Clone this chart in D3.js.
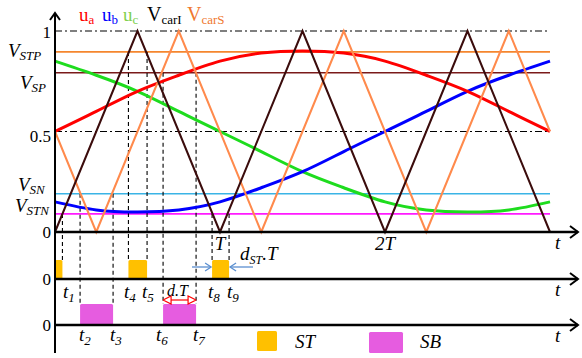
<!DOCTYPE html>
<html>
<head>
<meta charset="utf-8">
<script src="https://cdn.jsdelivr.net/npm/d3@7"></script>
<style>
  html, body { margin: 0; padding: 0; background: #fff; }
  svg { display: block; }
  text { font-family: "Liberation Serif", "Times New Roman", serif; }
</style>
</head>
<body>
<svg id="chart" width="582" height="358"></svg>
<script>
// ---- data (time in carrier periods T, amplitude normalised 0..1) ----
const periodTicks = [1, 2];
const periodLabels = ["T", "2T"];
const gridValues = [1, 0.5];
const gridLabels = ["1", "0.5"];

const levelNames = ["STP", "SP", "SN", "STN"];
const levelValues = [0.896, 0.792, 0.19, 0.09];
const levelColors = ["#f5862e", "#7a1a1a", "#3ab4e6", "#ff1aff"];

const carrierITimes = [0, 0.5, 1, 1.5, 2, 2.5, 3];
const carrierIValues = [0, 1, 0, 1, 0, 1, 0];
const carrierSTimes = [0, 0.25, 0.75, 1.25, 1.75, 2.25, 2.75, 3];
const carrierSValues = [0.5, 0, 1, 0, 1, 0, 1, 0.5];

const phaseTimes = [0, 0.25, 0.5, 0.75, 1, 1.25, 1.5, 1.75, 2, 2.25, 2.5, 2.75, 3];
const ua = [0.50, 0.60, 0.70, 0.78, 0.85, 0.89, 0.90, 0.89, 0.85, 0.78, 0.70, 0.60, 0.50];
const ub = [0.15, 0.11, 0.10, 0.11, 0.15, 0.22, 0.30, 0.40, 0.50, 0.60, 0.70, 0.78, 0.85];
const uc = [0.85, 0.78, 0.70, 0.60, 0.50, 0.40, 0.30, 0.22, 0.15, 0.11, 0.10, 0.11, 0.15];

// switching instants t1..t9, the level each one is taken from, and its state row
const switchNames = ["1", "2", "3", "4", "5", "6", "7", "8", "9"];
const switchTimes = [0.045, 0.152, 0.352, 0.445, 0.558, 0.655, 0.855, 0.952, 1.055];
const switchLevel = [3, 2, 2, 0, 0, 1, 1, 3, 3];
const switchRow = ["ST", "SB", "SB", "ST", "ST", "SB", "SB", "ST", "ST"];

// shoot-through and shoot-by intervals
const stStart = [0, 0.445, 0.952];
const stEnd = [0.045, 0.558, 1.055];
const sbStart = [0.152, 0.655];
const sbEnd = [0.352, 0.855];

// ---- layout ----
const svg = d3.select("#chart");
const x = d3.scaleLinear().domain([0, 3]).range([55, 550]);
const y = d3.scaleLinear().domain([0, 1]).range([232, 31]);
const axisX0 = 55, axisEnd = 578;
const stAxisY = 279, sbAxisY = 325;
const stTop = 260, sbTop = 304;
const ST_COLOR = "#ffc000", SB_COLOR = "#e65ce0";

function label(px, py, main, sub, opt = {}) {
  const t = svg.append("text")
    .attr("x", px).attr("y", py)
    .attr("font-size", opt.size || 18)
    .attr("fill", opt.color || "#000")
    .attr("text-anchor", opt.anchor || "start")
    .attr("font-style", opt.italic ? "italic" : "normal");
  t.append("tspan").text(main);
  if (sub) {
    t.append("tspan").attr("font-size", opt.subSize || 12)
      .attr("dy", opt.subDy || 4).text(sub);
    if (opt.after) t.append("tspan").attr("dy", -(opt.subDy || 4)).text(opt.after);
  }
  return t;
}

function openArrow(px, py, dir, len = 8, half = 6, color = "#000", w = 2) {
  // chevron arrowhead with its tip at (px, py); dir: "right", "left", "up"
  let pts;
  if (dir === "right") pts = [[px - len, py - half], [px, py], [px - len, py + half]];
  else if (dir === "left") pts = [[px + len, py - half], [px, py], [px + len, py + half]];
  else pts = [[px - half, py + len], [px, py], [px + half, py + len]];
  svg.append("path").attr("d", d3.line()(pts))
    .attr("fill", "none").attr("stroke", color).attr("stroke-width", w)
    .attr("stroke-linejoin", "miter");
}

// dash-dot grid lines at 1 and 0.5
svg.selectAll(".grid").data(gridValues).enter().append("line")
  .attr("x1", x(0)).attr("x2", x(3))
  .attr("y1", d => y(d)).attr("y2", d => y(d))
  .attr("stroke", "#000").attr("stroke-width", 1.2)
  .attr("stroke-dasharray", "7,3,2,3");

// reference levels
svg.selectAll(".level").data(levelValues).enter().append("line")
  .attr("x1", x(0)).attr("x2", x(3))
  .attr("y1", d => y(d)).attr("y2", d => y(d))
  .attr("stroke", (d, i) => levelColors[i]).attr("stroke-width", 1.6);

// dashed switching-instant guides
switchTimes.forEach((t, i) => {
  svg.append("line")
    .attr("x1", x(t)).attr("x2", x(t))
    .attr("y1", y(levelValues[switchLevel[i]]))
    .attr("y2", switchRow[i] === "ST" ? stTop : sbTop)
    .attr("stroke", "#000").attr("stroke-width", 1.1)
    .attr("stroke-dasharray", "4,3");
});

// three-phase references
const phaseLine = d3.line().x((d, i) => x(phaseTimes[i])).y(d => y(d)).curve(d3.curveNatural);
[[uc, "#1edc1e"], [ub, "#0000ff"], [ua, "#ff0000"]].forEach(([vals, col]) => {
  svg.append("path").attr("d", phaseLine(vals))
    .attr("fill", "none").attr("stroke", col).attr("stroke-width", 3);
});

// carriers
const carrierLine = times => d3.line().x((d, i) => x(times[i])).y(d => y(d));
svg.append("path").attr("d", carrierLine(carrierSTimes)(carrierSValues))
  .attr("fill", "none").attr("stroke", "#ff8a4c").attr("stroke-width", 2);
svg.append("path").attr("d", carrierLine(carrierITimes)(carrierIValues))
  .attr("fill", "none").attr("stroke", "#3b0c0c").attr("stroke-width", 2);

// state boxes
svg.selectAll(".st").data(stStart).enter().append("rect")
  .attr("x", d => x(d)).attr("y", stTop)
  .attr("width", (d, i) => x(stEnd[i]) - x(d)).attr("height", stAxisY - stTop)
  .attr("rx", 1.5).attr("fill", ST_COLOR);
svg.selectAll(".sb").data(sbStart).enter().append("rect")
  .attr("x", d => x(d)).attr("y", sbTop)
  .attr("width", (d, i) => x(sbEnd[i]) - x(d)).attr("height", sbAxisY - sbTop)
  .attr("rx", 1.5).attr("fill", SB_COLOR);

// axes
svg.append("line").attr("x1", axisX0).attr("x2", axisX0).attr("y1", 13).attr("y2", 353)
  .attr("stroke", "#000").attr("stroke-width", 2);
openArrow(axisX0, 13, "up", 7, 5);
[[y(0), 2.6], [stAxisY, 2.4], [sbAxisY, 2.4]].forEach(([ay, w]) => {
  svg.append("line").attr("x1", axisX0).attr("x2", axisEnd).attr("y1", ay).attr("y2", ay)
    .attr("stroke", "#000").attr("stroke-width", w);
  openArrow(axisEnd, ay, "right", 8, 6, "#000", 2);
  label(555, ay + 17, "t", null, { italic: true, size: 19 });
});

// y-axis labels
label(51, 38, gridLabels[0], null, { anchor: "end", size: 17 });
label(51, 142, gridLabels[1], null, { anchor: "end", size: 17 });
label(51, 238, "0", null, { anchor: "end", size: 17 });
label(51, 285, "0", null, { anchor: "end", size: 17 });
label(51, 331, "0", null, { anchor: "end", size: 17 });
const levelLabelX = [8, 20, 18, 15];
const levelLabelY = [57, 89, 191, 212];
levelNames.forEach((n, i) => {
  label(levelLabelX[i], levelLabelY[i], "V", n, { italic: true, size: 19, subSize: 13, subDy: 3 });
});

// period labels
periodTicks.forEach((p, i) => {
  label(x(p), 250, periodLabels[i], null, { italic: true, size: 19, anchor: "middle" });
});

// switching instant labels
const tLabelX = [63, 79, 110, 124, 142, 156, 193, 208, 227];
switchNames.forEach((n, i) => {
  const by = switchRow[i] === "ST" ? 298 : 341;
  label(tLabelX[i], by, "t", n, { italic: true, size: 19, subSize: 13, subDy: 4 });
});

// top legend
label(79, 21, "u", "a", { color: "#ff0000", size: 19, subSize: 13, subDy: 3 });
label(102, 21, "u", "b", { color: "#0000ff", size: 19, subSize: 13, subDy: 3 });
label(123, 21, "u", "c", { color: "#80d050", size: 19, subSize: 13, subDy: 3 });
label(147, 21, "V", "carI", { color: "#000", size: 20, subSize: 13, subDy: 3 });
label(187, 21, "V", "carS", { color: "#f07830", size: 20, subSize: 13, subDy: 3 });

// d_ST.T annotation with pointing arrows
label(240, 260, "d", "ST", { italic: true, size: 19, subSize: 12, subDy: 4, after: ".T" });
const blue = "#5b8fd0";
svg.append("line").attr("x1", 192).attr("x2", x(stStart[2]) - 1).attr("y1", 267).attr("y2", 267)
  .attr("stroke", blue).attr("stroke-width", 1.3);
openArrow(x(stStart[2]) - 1, 267, "right", 6, 4, blue, 1.3);
svg.append("line").attr("x1", 253).attr("x2", x(stEnd[2]) + 1).attr("y1", 267).attr("y2", 267)
  .attr("stroke", blue).attr("stroke-width", 1.3);
openArrow(x(stEnd[2]) + 1, 267, "left", 6, 4, blue, 1.3);

// d.T annotation with double-headed arrow over the second shoot-by
const ay2 = 300, xa = x(sbStart[1]), xb = x(sbEnd[1]);
svg.append("line").attr("x1", xa + 7).attr("x2", xb - 7).attr("y1", ay2).attr("y2", ay2)
  .attr("stroke", "#ff0000").attr("stroke-width", 1.2);
svg.append("path").attr("d", d3.line()([[xa, ay2], [xa + 8, ay2 - 4], [xa + 8, ay2 + 4], [xa, ay2]]))
  .attr("fill", "#fff").attr("stroke", "#ff0000").attr("stroke-width", 1.2);
svg.append("path").attr("d", d3.line()([[xb, ay2], [xb - 8, ay2 - 4], [xb - 8, ay2 + 4], [xb, ay2]]))
  .attr("fill", "#fff").attr("stroke", "#ff0000").attr("stroke-width", 1.2);
label(167, 296, "d.T", null, { italic: true, size: 16 });

// bottom legend
svg.append("rect").attr("x", 257).attr("y", 331).attr("width", 20).attr("height", 20)
  .attr("rx", 1.5).attr("fill", ST_COLOR);
label(295, 348, "ST", null, { italic: true, size: 19 });
svg.append("rect").attr("x", 369).attr("y", 332).attr("width", 34).attr("height", 21)
  .attr("rx", 1.5).attr("fill", SB_COLOR);
label(420, 348, "SB", null, { italic: true, size: 19 });
</script>
</body>
</html>
